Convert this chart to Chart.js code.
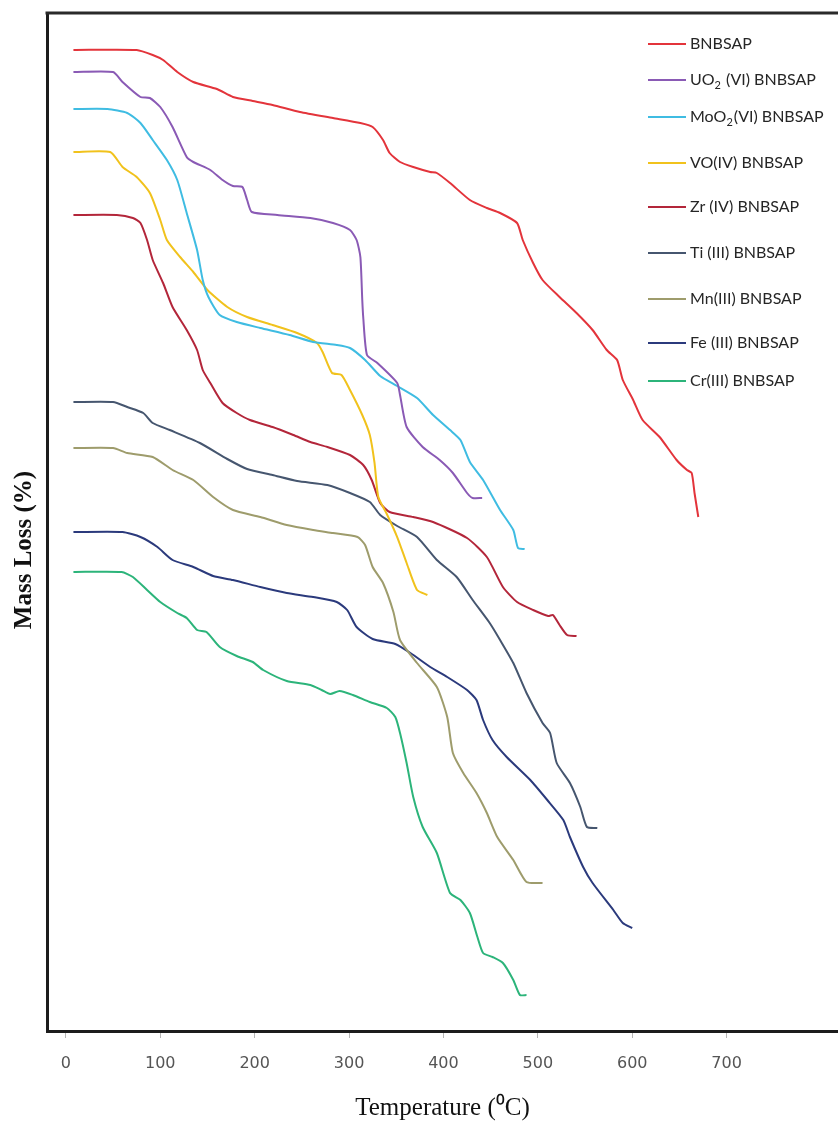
<!DOCTYPE html>
<html>
<head>
<meta charset="utf-8">
<script src="https://cdn.jsdelivr.net/npm/chart.js@4/dist/chart.umd.min.js"></script>
<style>
  html, body { margin: 0; padding: 0; background: #fff; }
  #wrap { width: 838px; height: 1124px; }
</style>
</head>
<body>
<div id="wrap"><canvas id="tga" width="838" height="1124"></canvas></div>
<script>
// Thermogravimetric curves: temperature (°C) against remaining mass (relative units, curves stacked)
const seriesNames = [
  'BNBSAP', 'UO₂ (VI) BNBSAP', 'MoO₂(VI) BNBSAP', 'VO(IV) BNBSAP', 'Zr (IV) BNBSAP',
  'Ti (III) BNBSAP', 'Mn(III) BNBSAP', 'Fe (III) BNBSAP', 'Cr(III) BNBSAP'
];
const xTickValues = [0, 100, 200, 300, 400, 500, 600, 700];
const yAxisTitle = 'Mass Loss (%)';
const xAxisTitle = 'Temperature (⁰C)';

const ligandT = [8,75,92,103,118,135,160,177,198,219,248,283,312,325,336,343,354,368,386,393,407,428,446,460,478,484,495,505,523,541,558,573,584,590,601,611,629,647,658,663,666,670];
const ligandM = [98.1,98.1,97.6,97.1,95.9,94.9,94.2,93.4,93.0,92.6,91.9,91.3,90.8,90.4,89.1,87.8,86.9,86.4,85.9,85.8,84.8,83.1,82.3,81.8,80.8,79.1,76.8,75.1,73.4,71.8,70.1,68.1,67.1,65.1,63.1,61.1,59.4,57.1,56.1,55.8,53.8,51.4];

const uo2T = [8,50,60,79,89,100,113,128,135,153,166,177,187,192,197,224,259,283,301,308,312,314,315,319,330,351,354,361,378,396,410,425,431,441];
const uo2M = [95.9,95.9,94.9,93.4,93.3,92.4,90.4,87.4,86.9,86.1,85.1,84.5,84.4,83.1,81.9,81.6,81.3,80.8,80.1,79.1,77.4,73.1,71.4,67.6,66.8,64.8,63.6,60.4,58.4,57.1,55.8,53.8,53.3,53.3];

const moo2T = [8,44,65,79,92,107,118,128,139,145,151,163,181,206,237,262,287,301,317,333,351,372,389,407,418,428,442,460,474,479,486];
const moo2M = [92.2,92.2,91.8,90.8,89.1,87.1,85.1,81.8,78.1,75.1,73.4,71.6,70.9,70.3,69.6,68.9,68.6,68.3,67.1,65.5,64.5,63.3,61.6,60.1,59.1,56.9,55.1,52.1,50.1,48.3,48.2];

const voT = [8,47,60,75,89,100,107,121,135,150,171,192,219,245,266,272,282,292,301,314,322,327,331,340,351,361,372,383];
const voM = [87.9,87.9,86.4,85.4,83.8,81.1,79.1,77.4,75.9,74.1,72.4,71.4,70.6,69.8,68.8,67.9,65.8,65.6,64.1,61.6,59.6,56.8,53.4,51.7,49.4,46.8,44.1,43.6];

const zrT = [8,54,71,79,86,92,103,113,128,139,145,153,166,181,195,219,241,259,277,301,315,324,333,343,368,389,425,446,463,478,495,511,516,523,531,541];
const zrM = [81.6,81.6,81.3,80.8,79.1,77.1,74.8,72.4,70.1,68.1,66.1,64.8,62.8,61.8,61.1,60.4,59.6,58.9,58.4,57.6,56.6,55.1,52.8,51.9,51.4,50.9,49.3,47.4,44.4,42.9,42.1,41.5,41.6,40.6,39.6,39.5];

const tiT = [8,50,65,82,92,110,142,171,192,219,245,277,301,322,333,351,372,393,414,431,449,460,474,488,505,513,520,534,545,552,563];
const tiM = [62.9,62.9,62.4,61.8,60.8,60.1,58.8,57.2,56.2,55.6,55.0,54.6,53.8,52.9,51.6,50.5,49.4,47.1,45.4,43.1,40.8,39.1,36.8,33.8,30.8,29.8,26.8,24.8,22.4,20.4,20.3];

const mnT = [8,50,65,92,113,135,156,177,206,234,262,283,309,317,325,336,347,354,372,393,404,410,421,435,446,457,474,488,505];
const mnM = [58.3,58.3,57.8,57.4,56.1,55.1,53.4,52.1,51.4,50.6,50.1,49.8,49.4,48.6,46.4,44.8,41.9,39.1,36.8,34.4,31.4,27.8,25.8,23.8,21.8,19.4,17.1,14.9,14.8];

const feT = [8,60,79,97,113,135,156,177,206,234,262,287,298,308,325,349,365,386,404,425,435,442,452,467,492,510,527,534,548,558,580,590,600];
const feM = [49.9,49.9,49.4,48.4,47.1,46.4,45.5,45.1,44.4,43.8,43.4,42.9,42.1,40.4,39.2,38.7,37.8,36.4,35.4,34.1,33.1,31.1,29.1,27.4,25.1,23.1,21.1,19.4,16.4,14.8,12.1,10.8,10.3];

const crT = [8,59,71,86,100,118,128,139,149,163,181,198,209,234,259,271,280,290,304,322,340,349,354,361,368,378,393,407,418,428,436,442,452,463,474,481,488];
const crM = [45.9,45.9,45.4,44.1,42.9,41.8,41.3,40.1,39.9,38.4,37.5,36.9,36.1,35.0,34.6,34.1,33.7,34.0,33.6,32.9,32.3,31.4,29.8,26.8,23.4,20.4,17.8,13.8,13.1,11.8,9.4,7.8,7.4,6.8,5.1,3.6,3.6];

const seriesT = [ligandT, uo2T, moo2T, voT, zrT, tiT, mnT, feT, crT];
const seriesM = [ligandM, uo2M, moo2M, voM, zrM, tiM, mnM, feM, crM];
const lineColors = ['#e3343b', '#8a5ab5', '#3fbce2', '#f1c21c', '#b3263a', '#46566f', '#9e9c6c', '#2b3a7c', '#2cb47a'];

const datasets = seriesNames.map((name, i) => ({
  label: name,
  data: seriesT[i].map((t, k) => ({ x: t, y: seriesM[i][k] })),
  borderColor: lineColors[i],
  backgroundColor: lineColors[i],
  borderWidth: 2,
  pointRadius: 0,
  tension: 0.2,
  fill: false
}));

// Legend drawn inside the plot, one row per series, with subscript support for "₂"
const insideLegend = {
  id: 'insideLegend',
  afterDraw(chart, args, opts) {
    const ctx = chart.ctx;
    ctx.save();
    ctx.textBaseline = 'middle';
    chart.data.datasets.forEach((ds, i) => {
      const y = opts.rows[i];
      ctx.strokeStyle = ds.borderColor;
      ctx.lineWidth = 2;
      ctx.beginPath();
      ctx.moveTo(opts.lineStart, y);
      ctx.lineTo(opts.lineEnd, y);
      ctx.stroke();
      ctx.fillStyle = opts.color;
      let x = opts.textStart;
      ds.label.split(/(₂)/).forEach(part => {
        if (!part) return;
        if (part === '₂') {
          ctx.font = opts.subFont;
          ctx.fillText('2', x, y + 5);
          x += ctx.measureText('2').width + 1;
        } else {
          ctx.font = opts.font;
          ctx.fillText(part, x, y);
          x += ctx.measureText(part).width;
        }
      });
    });
    ctx.restore();
  }
};

// Top edge of the plot frame and the vertical axis title
const frameAndTitle = {
  id: 'frameAndTitle',
  afterDraw(chart, args, opts) {
    const { ctx, chartArea } = chart;
    ctx.save();
    ctx.strokeStyle = '#2a2a2a';
    ctx.lineWidth = 3;
    ctx.beginPath();
    ctx.moveTo(chartArea.left - 1.5, chartArea.top);
    ctx.lineTo(chartArea.right, chartArea.top);
    ctx.stroke();

    ctx.translate(opts.titleX, opts.titleY);
    ctx.rotate(-Math.PI / 2);
    ctx.font = opts.font;
    ctx.fillStyle = '#111';
    ctx.textAlign = 'center';
    ctx.textBaseline = 'middle';
    ctx.fillText(yAxisTitle, 0, 0);
    ctx.restore();
  }
};

new Chart(document.getElementById('tga'), {
  type: 'line',
  data: { datasets },
  plugins: [insideLegend, frameAndTitle],
  options: {
    responsive: false,
    animation: false,
    layout: { padding: { top: 13, left: 0, right: 0, bottom: 0 } },
    plugins: {
      legend: { display: false },
      tooltip: { enabled: false },
      insideLegend: {
        rows: [44, 80, 117, 163, 207, 253, 299, 343, 381],
        lineStart: 648, lineEnd: 686, textStart: 690,
        font: '16px Lato, "Open Sans", sans-serif',
        subFont: '11px Lato, "Open Sans", sans-serif',
        color: '#262626'
      },
      frameAndTitle: {
        titleX: 25, titleY: 550,
        font: 'bold 25px "Liberation Serif", "Times New Roman", serif'
      }
    },
    scales: {
      x: {
        type: 'linear',
        min: -20,
        max: 818,
        afterBuildTicks(scale) { scale.ticks = xTickValues.map(v => ({ value: v })); },
        afterFit(scale) { scale.height = 93; },
        grid: { display: true, drawOnChartArea: false, drawTicks: true, tickLength: 7, color: '#b5b5b5', lineWidth: 1 },
        border: { display: true, color: '#1c1c1c', width: 3 },
        ticks: {
          padding: 16,
          color: '#555',
          font: { family: '"DejaVu Sans", sans-serif', size: 16 },
          maxRotation: 0,
          autoSkip: false
        },
        title: {
          display: true,
          text: xAxisTitle,
          color: '#111',
          font: { family: '"Liberation Serif", "Times New Roman", serif', size: 25 },
          padding: { top: 0, bottom: 1 }
        }
      },
      y: {
        type: 'linear',
        min: 0,
        max: 101.8,
        afterFit(scale) { scale.width = 47; },
        grid: { display: false },
        border: { display: true, color: '#1c1c1c', width: 3 },
        ticks: { display: false },
        title: { display: false }
      }
    }
  }
});
</script>
</body>
</html>
